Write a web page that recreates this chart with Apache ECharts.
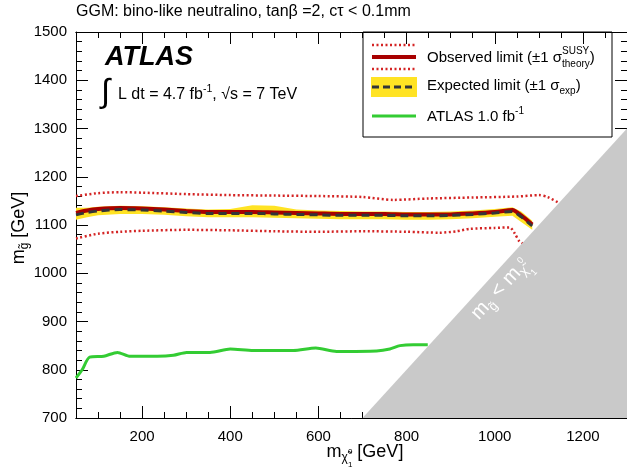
<!DOCTYPE html>
<html><head><meta charset="utf-8">
<script src="https://cdn.jsdelivr.net/npm/echarts@6/dist/echarts.min.js"></script>
<style>html,body{margin:0;padding:0;background:#fff}#c{width:627px;height:476px}</style>
</head><body><div id="c"></div>
<script>
// ---------- data ----------
const obsX  = [50, 75, 100, 150, 200, 250, 300, 350, 400, 450, 500, 550, 600, 650, 700, 750, 800, 850, 900, 950, 1000, 1040, 1060, 1085];
const obsY  = [1125,1130,1133,1135,1134,1132,1129,1127,1127,1127,1126,1125,1124,1123,1123,1123,1122,1122,1122,1124,1127,1131,1120,1101];
const expY  = [1121,1126,1129,1132,1131,1129,1126,1124,1124,1124,1123,1122,1121,1120,1120,1120,1119,1119,1120,1122,1125,1128,1117,1098];
const bandUp= [1136,1136,1138,1140,1139,1137,1134,1132,1133,1141,1140,1132,1130,1129,1128,1128,1127,1127,1128,1130,1133,1137,1128,1109];
const bandLo= [1111,1116,1120,1123,1123,1121,1118,1116,1116,1116,1115,1114,1113,1112,1112,1112,1111,1111,1112,1114,1117,1119,1106,1090];
const thUpX = [50, 100, 150, 200, 300, 400, 500, 600, 700, 770, 850, 950, 1050, 1100, 1120, 1145];
const thUpY = [1160,1166,1168,1167,1164,1162,1161,1160,1158,1152,1155,1157,1159,1162,1158,1146];
const thLoX = [50, 100, 150, 200, 300, 400, 500, 600, 700, 800, 875, 913, 943, 1000, 1034, 1045, 1056, 1068];
const thLoY = [1072,1082,1086,1088,1090,1089,1087,1086,1087,1086,1084,1087,1092,1094,1095,1083,1066,1060];
const oldX  = [50, 64, 81, 113, 144, 173, 234, 271, 301, 354, 400, 452, 543, 594, 641, 732, 762, 785, 815, 848];
const oldY  = [783, 800, 826, 828, 836, 828, 828, 830, 836, 836, 843, 840, 840, 845, 838, 839, 843, 850, 852, 852];
const diagX = [700, 1300, 1300];
const diagY = [700, 700, 1300];
const xMajorTicks = [200, 400, 600, 800, 1000, 1200];
const xMinorTicks = [100, 150, 250, 300, 350, 450, 500, 550, 650, 700, 750, 850, 900, 950, 1050, 1100, 1150, 1250];

// ---------- helpers ----------
const FONT = "'Liberation Sans', Arial, Helvetica, sans-serif";
const mctx = document.createElement('canvas').getContext('2d');
function tw(t, s, w, st) { mctx.font = (st||'normal') + ' ' + (w||'normal') + ' ' + s + 'px ' + FONT; return mctx.measureText(t).width; }
function txt(t, x, y, s, fill, w, st) {
  return {type:'text', x:x, y:y, z:20, style:{text:t, font:(st||'normal')+' '+(w||'normal')+' '+s+'px '+FONT, fill:fill||'#000',
    textAlign:'left', textVerticalAlign:'middle', align:'left', verticalAlign:'middle'}};
}
// tokens: {t, s, dy, stack(true = don't advance), w, st}
function seq(tokens, x0, y0, fill, center) {
  let total = 0, pend = 0;
  const pos = [];
  tokens.forEach(k => {
    const wdt = tw(k.t, k.s, k.w, k.st);
    pos.push(total);
    if (k.stack) { pend = Math.max(pend, wdt); }
    else { total += Math.max(wdt, pend); pend = 0; }
  });
  total += pend;
  const off = center ? -total/2 : 0;
  return tokens.map((k, i) => txt(k.t, x0 + off + pos[i], y0 + (k.dy||0), k.s, fill, k.w, k.st));
}
function pairs(xs, ys) { return xs.map((x, i) => [x, ys[i]]); }

const RED_D = '#a80000', RED_L = '#d42424', YEL = '#ffe324', DGRAY = '#333538', GREEN = '#33cc33', GRAY = '#c9c9c9';

const chart = echarts.init(document.getElementById('c'), null, {renderer:'canvas'});
const axLine = {show:true, lineStyle:{color:'#000', width:1}};
const lbl = {color:'#000', fontSize:15, fontFamily:FONT, formatter: v => String(v)};
function xAx(pos, major, labels) {
  return {type:'value', min:50, max:1300, position:pos, axisLine:axLine,
    axisTick:{show:true, inside:true, length: major ? 12 : 6, customValues: major ? xMajorTicks : xMinorTicks, lineStyle:{color:'#000'}},
    axisLabel: labels ? Object.assign({show:true, margin:11, customValues:xMajorTicks}, lbl) : {show:false},
    splitLine:{show:false}};
}
function yAx(pos, labels) {
  return {type:'value', min:700, max:1500, interval:100, position:pos, axisLine:axLine,
    axisTick:{show:true, inside:true, length:12, lineStyle:{color:'#000'}},
    minorTick:{show:true, splitNumber:5, length:6, lineStyle:{color:'#000'}},
    axisLabel: labels ? Object.assign({show:true, margin:9}, lbl) : {show:false},
    splitLine:{show:false}};
}
function polyItem(xs, ys, fill) {
  return function(params, api) {
    const pts = xs.map((x, i) => api.coord([x, ys[i]]));
    return {type:'polygon', shape:{points:pts}, style:{fill:fill}};
  };
}
function bandItem(params, api) {
  const up = obsX.map((x, i) => api.coord([x, bandUp[i]]));
  const lo = obsX.map((x, i) => api.coord([x, bandLo[i]])).reverse();
  return {type:'polygon', shape:{points:up.concat(lo), smooth:0}, style:{fill:YEL}};
}
const lineS = (xs, ys, color, width, type, z) => ({type:'line', data:pairs(xs, ys), showSymbol:false, symbol:'none', smooth:0.25,
  lineStyle:{color:color, width:width, type:type}, z:z, xAxisIndex:0, yAxisIndex:0, animation:false});

// ---------- graphics (text, legend) ----------
const g = [];
g.push(txt('GGM: bino-like neutralino, tanβ =2, cτ < 0.1mm', 76, 12, 16, '#000'));
g.push(txt('ATLAS', 105, 58, 27, '#000', 'bold', 'italic'));
g.push(txt('∫', 101, 93, 33, '#000'));
seq([{t:'L dt = 4.7 fb', s:16}, {t:'-1', s:10.5, dy:-6}, {t:', √s = 7 TeV', s:16}], 118, 95, '#000').forEach(e => g.push(e));
// legend box
g.push({type:'rect', z:-5, shape:{x:363, y:32, width:249, height:105}, style:{fill:'#fff', stroke:'#000', lineWidth:1}});
g.push({type:'line', z:21, shape:{x1:372, y1:45, x2:416, y2:45}, style:{stroke:RED_L, lineWidth:2.5, lineDash:[2,2.5]}});
g.push({type:'line', z:21, shape:{x1:372, y1:57, x2:416, y2:57}, style:{stroke:RED_D, lineWidth:4}});
g.push({type:'line', z:21, shape:{x1:372, y1:69, x2:416, y2:69}, style:{stroke:RED_L, lineWidth:2.5, lineDash:[2,2.5]}});
g.push({type:'rect', z:21, shape:{x:371, y:77, width:46, height:20}, style:{fill:YEL}});
g.push({type:'line', z:22, shape:{x1:372, y1:87, x2:416, y2:87}, style:{stroke:DGRAY, lineWidth:3, lineDash:[7,4]}});
g.push({type:'line', z:21, shape:{x1:372, y1:116, x2:416, y2:116}, style:{stroke:GREEN, lineWidth:3}});
seq([{t:'Observed limit (±1 σ', s:15}, {t:'SUSY', s:10, dy:-7, stack:true}, {t:'theory', s:10, dy:6}, {t:')', s:15}], 427, 58, '#000').forEach(e => g.push(e));
seq([{t:'Expected limit (±1 σ', s:15}, {t:'exp', s:10, dy:5}, {t:')', s:15}], 427, 86, '#000').forEach(e => g.push(e));
seq([{t:'ATLAS 1.0 fb', s:15}, {t:'-1', s:10, dy:-6}], 427, 117, '#000').forEach(e => g.push(e));
// axis titles
g.push({type:'group', x:19, y:228, rotation:Math.PI/2,
  children: seq([{t:'m', s:18}, {t:'g\u0303', s:12, dy:6}, {t:' [GeV]', s:18}], 0, 0, '#000', true)});
g.push({type:'group', x:365, y:452,
  children: seq([{t:'m', s:18}, {t:'χ\u0303', s:12, dy:6}, {t:'0', s:8, dy:0, stack:true}, {t:'1', s:8, dy:13}, {t:' [GeV]', s:18}], 0, 0, '#000', true)});
// diagonal label
g.push({type:'group', x:500, y:289, rotation:0.83, z:30,
  children: seq([{t:'m', s:20}, {t:'g\u0303', s:13, dy:7}, {t:' < m', s:20}, {t:'χ\u0303', s:13, dy:6}, {t:'0', s:9, dy:-4, stack:true}, {t:'1', s:9, dy:14}], 0, 0, '#fff', true)});

chart.setOption({
  animation:false,
  backgroundColor:'#fff',
  grid:{left:76, right:0, top:32, bottom:58, containLabel:false},
  xAxis:[xAx('bottom', true, true), xAx('bottom', false, false), xAx('top', true, false), xAx('top', false, false)],
  yAxis:[yAx('left', true), yAx('right', false)],
  series:[
    {type:'custom', renderItem:bandItem, data:[[obsX[0], bandLo[0]]], z:1, clip:true, silent:true},
    lineS(thUpX, thUpY, RED_L, 2.5, [2,2.5], 2),
    lineS(thLoX, thLoY, RED_L, 2.5, [2,2.5], 2),
    lineS(obsX, obsY, RED_D, 4, 'solid', 3),
    lineS(obsX, expY, DGRAY, 3, [8,5], 4),
    lineS(oldX, oldY, GREEN, 3, 'solid', 2),
    {type:'custom', renderItem:polyItem(diagX, diagY, GRAY), data:[[diagX[0], diagY[0]]], z:6, clip:true, silent:true}
  ],
  graphic:{elements:g}
});
</script></body></html>
